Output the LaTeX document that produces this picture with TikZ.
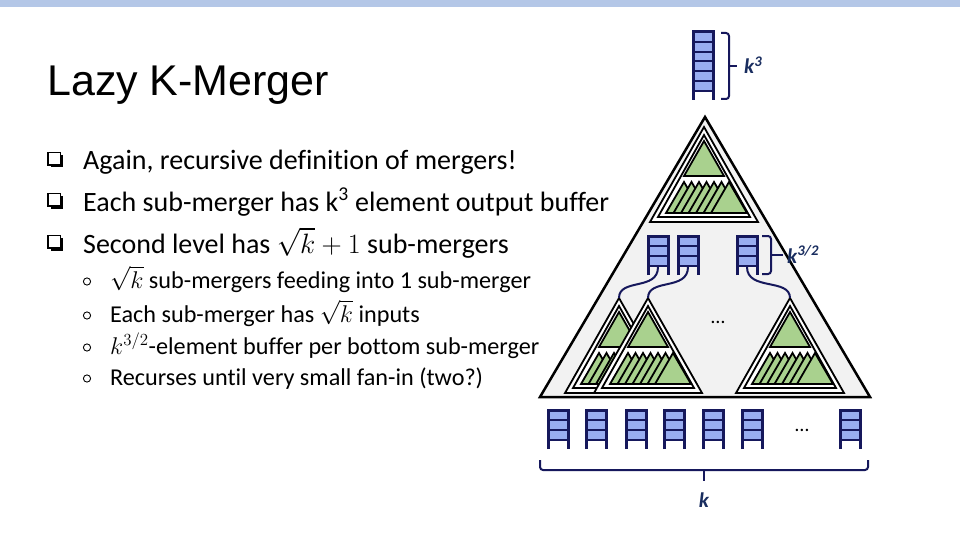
\RequirePackage{fix-cm}
\documentclass[tikz,border=0pt]{standalone}
\usepackage{fontspec}
\setmainfont{Carlito}[Ligatures=NoCommon]
\newfontfamily\arialf{Liberation Sans}
\definecolor{topbar}{RGB}{180,199,231}
\definecolor{navy}{RGB}{22,24,92}
\definecolor{cellblue}{RGB}{153,173,240}
\definecolor{mgreen}{RGB}{169,209,142}
\definecolor{trigray}{RGB}{242,242,242}
\definecolor{lbl}{RGB}{25,45,95}
\tikzset{
  cellbox/.style={fill=cellblue,draw=navy,line width=2},
  bufside/.style={draw=navy,line width=3},
  greentri/.style={fill=mgreen,draw=black,line width=1.8,line join=miter},
  subline/.style={fill=white,draw=black,line width=1.8},
  conn/.style={draw=navy,line width=2},
  bracketline/.style={draw=navy,line width=2,rounded corners=3},
  lbltext/.style={text=lbl,font=\fontsize{21}{24}\selectfont\bfseries\itshape,inner sep=0},
  lvlone/.style={anchor=base west,inner sep=0,font=\fontsize{28}{33}\selectfont},
  lvltwo/.style={anchor=base west,inner sep=0,font=\fontsize{24.2}{28}\selectfont},
  pics/buffer/.style 2 args={code={
    \foreach \i in {1,...,#1} {
      \draw[cellbox] (-10,{(\i-1)*#2}) rectangle (10,{\i*#2});
    }
    \draw[bufside] (-10,{#1*#2+9}) -- (-10,0) -- (10,0) -- (10,{#1*#2+9});
    \coordinate (-out) at (0,{#1*#2+1});
  }},
  pics/submerger/.style={code={
    \draw[subline] (0,0) -- (-54,95) -- (54,95) -- cycle;
    \draw[subline] (0,8) -- (-46,90) -- (46,90) -- cycle;
    \draw[greentri] (0,14) -- (-20,49) -- (20,49) -- cycle;
    \foreach \i in {0,...,6} {
      \draw[greentri] ({-20+7.5*\i},55) -- ({-38+7.5*\i},86) -- ({-2+7.5*\i},86) -- cycle;
    }
    \coordinate (-top) at (0,0);
  }}
}
\begin{document}
\begin{tikzpicture}[x=1pt,y=-1pt]
\useasboundingbox (0,0) rectangle (960,540);
\fill[white] (0,0) rectangle (960,540);
\fill[topbar] (0,0) rectangle (960,7);

% title
\node[anchor=base west,inner sep=0,font=\arialf\fontsize{43}{50}\selectfont] (title) at (47,96) {Lazy K-Merger};

% level-one bullets
\foreach \yb in {170,211,253} {
  \fill[black] (50.5,\yb-15) rectangle (63,\yb-2.5);
  \draw[fill=white,line width=1.1] (48,\yb-17.5) rectangle (60.5,\yb-5);
}
\node[lvlone] (l1) at (83,170) {Again, recursive definition of mergers!};
\node[lvlone] (l2) at (83,211) {Each sub-merger has k\textsuperscript{3} element output buffer};
\node[lvlone] (l3) at (83,253) {Second level has $\sqrt{k}+1$ sub-mergers};

% level-two bullets
\foreach \yb in {288,322,354,385} {
  \draw[line width=0.9] (87,\yb-6.5) circle (3.6);
}
\node[lvltwo] (s1) at (110,288) {$\sqrt{k}$ sub-mergers feeding into 1 sub-merger};
\node[lvltwo] (s2) at (110,322) {Each sub-merger has $\sqrt{k}$ inputs};
\node[lvltwo] (s3) at (110,354) {$k^{3/2}$-element buffer per bottom sub-merger};
\node[lvltwo] (s4) at (110,385) {Recurses until very small fan-in (two?)};

% big triangle
\draw[fill=trigray,draw=black,line width=2.5,line join=miter] (705,117) -- (540,397) -- (870,397) -- cycle;

% top sub-merger
\pic (top) at (704,127) {submerger};

% top output buffer
\pic (tb) at (703,32) {buffer={6}{9.8}};
\draw[bracketline] (721,33) -- (729,33) -- (729,99) -- (721,99);
\draw[navy,line width=2] (729,66) -- (737,66);
\node[lbltext,anchor=base west] (k3) at (744,74) {k\textsuperscript{3}};

% second level buffers
\pic (b1) at (658,236) {buffer={3}{10}};
\pic (b2) at (688,236) {buffer={3}{10}};
\pic (b3) at (747,236) {buffer={3}{10}};
\draw[bracketline] (762,236) -- (771,236) -- (771,274) -- (762,274);
\draw[navy,line width=2] (771,255) -- (783,255);

% lower sub-mergers
\pic (m1) at (619,298) {submerger};
\pic (m2) at (648,298) {submerger};
\pic (m3) at (790,298) {submerger};

\draw[conn] (b1-out) .. controls +(0,24) and +(0,-20) .. (m1-top);
\draw[conn] (b2-out) .. controls +(0,24) and +(0,-20) .. (m2-top);
\draw[conn] (b3-out) .. controls +(0,24) and +(0,-20) .. (m3-top);

\node[lbltext,anchor=base west] (k32) at (787,263) {k\textsuperscript{3/2}};
\node[font=\fontsize{20}{24}\selectfont,inner sep=0] (dots1) at (718,322) {\ldots};

% bottom buffers
\foreach \cx/\nm in {558.5/c1,596.5/c2,636/c3,674/c4,713.5/c5,752.5/c6,850.5/c7} {
  \pic (\nm) at (\cx,410) {buffer={3}{10}};
}
\node[font=\fontsize{20}{24}\selectfont,inner sep=0] (dots2) at (802,430) {\ldots};

% bottom brace
\draw[bracketline] (540,460) -- (540,470) -- (868,470) -- (868,460);
\draw[navy,line width=2] (704,470) -- (704,481);
\node[lbltext,anchor=base] (kb) at (704,507) {k};
\end{tikzpicture}
\end{document}
